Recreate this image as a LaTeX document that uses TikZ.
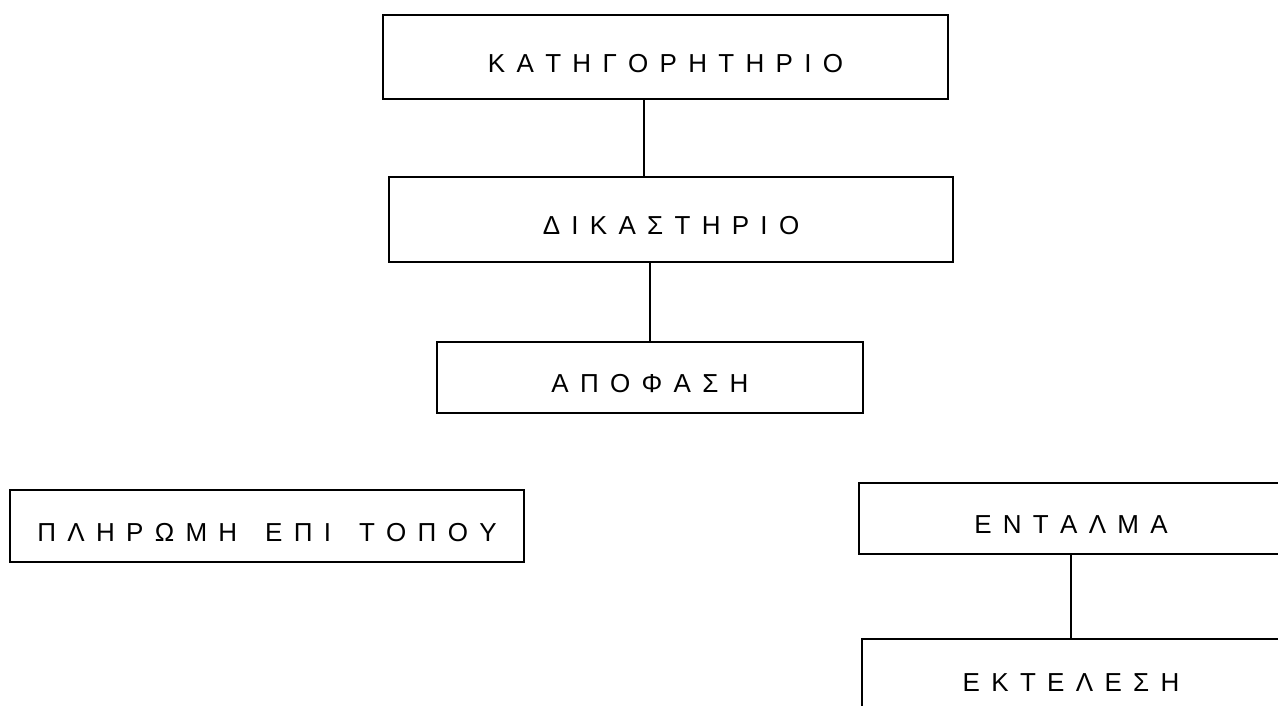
\documentclass[tikz,border=0pt]{standalone}
\usepackage{fontspec}
\setmainfont{Liberation Sans}
\newlength\lsp \setlength\lsp{11.3pt}
\newlength\wsp \setlength\wsp{16.6pt}
\def\spaced#1{\spacedA#1\relax}
\def\spacedA#1{#1\spacedB}
\def\spacedB#1{\ifx#1\relax\let\spnext\relax\else\ifx#1/\hspace{\wsp}\else\hspace{\lsp}#1\fi\let\spnext\spacedB\fi\spnext}
\begin{document}
\begin{tikzpicture}[x=1pt,y=-1pt,
  box/.style={draw, line width=1.1pt, inner sep=0pt,
    font=\fontsize{26pt}{30pt}\selectfont, text height=30.6pt, text depth=0pt},
  conn/.style={draw, line width=1.1pt}]
\clip (0,0) rectangle (1278,706);
\node[box, minimum width=565pt, minimum height=84pt] (b1) at (665.5,57) {\spaced{ΚΑΤΗΓΟΡΗΤΗΡΙΟ}};
\node[box, minimum width=564pt, minimum height=85pt] (b2) at (671,219.5) {\spaced{ΔΙΚΑΣΤΗΡΙΟ}};
\node[box, minimum width=426pt, minimum height=71pt] (b3) at (650,377.5) {\spaced{ΑΠΟΦΑΣΗ}};
\node[box, minimum width=514pt, minimum height=72pt] (b4) at (267,526) {\spaced{ΠΛΗΡΩΜΗ/ΕΠΙ/ΤΟΠΟΥ}};
\node[box, minimum width=424pt, minimum height=71pt] (b5) at (1071,518.5) {\spaced{ΕΝΤΑΛΜΑ}};
\node[box, minimum width=418pt, minimum height=74pt] (b6) at (1071,676) {\spaced{ΕΚΤΕΛΕΣΗ}};
\coordinate (c1) at (644,0);
\draw[conn] (b1.south -| c1) -- (b2.north -| c1);
\draw[conn] (b2.south -| b3.north) -- (b3.north);
\draw[conn] (b5.south) -- (b6.north);
\end{tikzpicture}
\end{document}
